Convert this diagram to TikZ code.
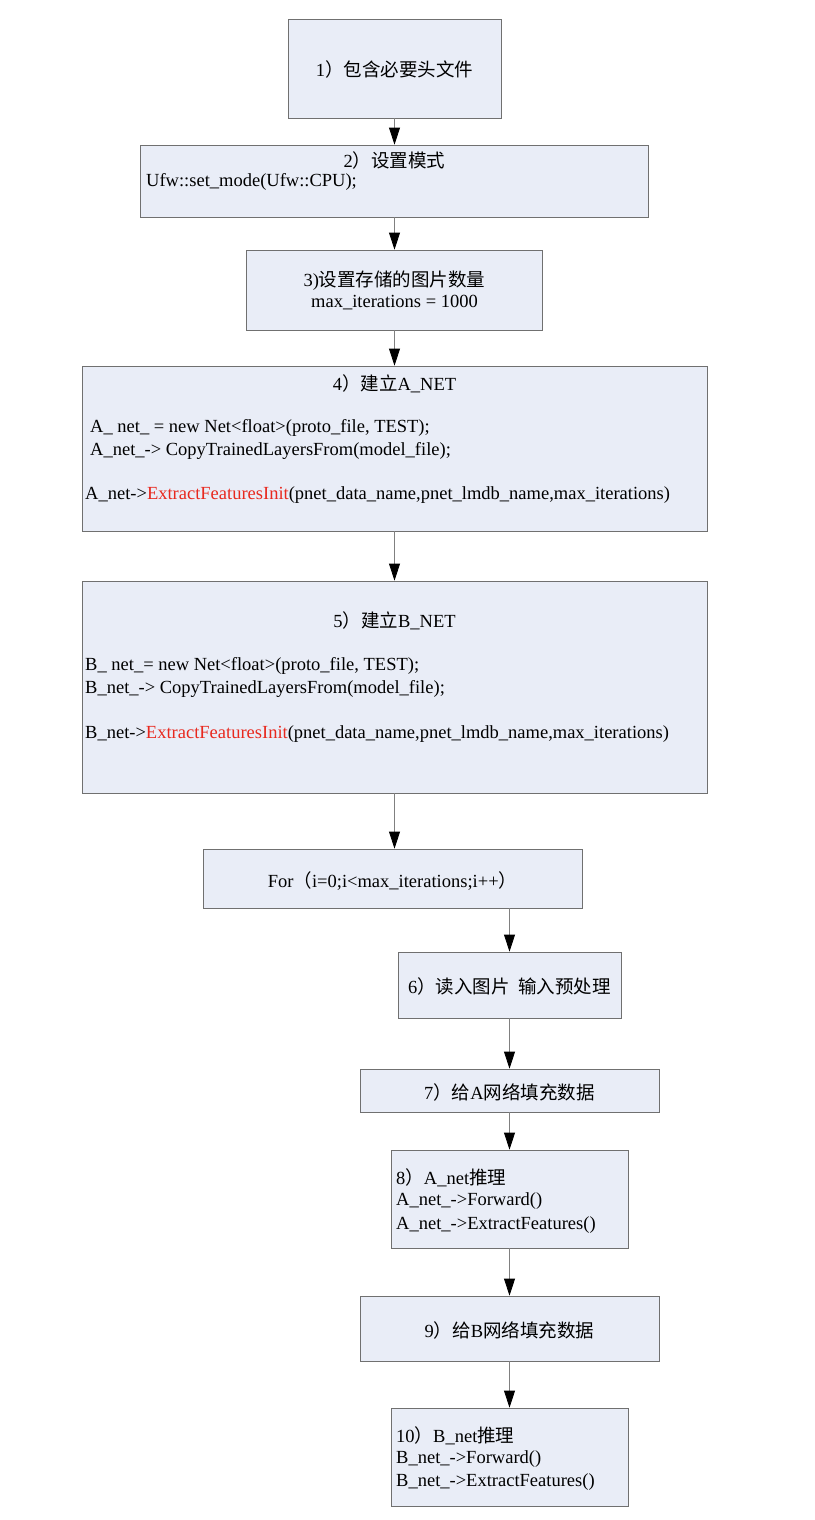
\documentclass[tikz,border=0pt]{standalone}
\usepackage{fontspec}
\setmainfont{Liberation Serif}
\newfontfamily\cjk{Noto Sans CJK SC}
\usetikzlibrary{arrows.meta}
\definecolor{boxfill}{RGB}{233,237,247}
\definecolor{boxline}{RGB}{112,112,112}
\definecolor{redtxt}{RGB}{232,40,30}
\newcommand{\zh}[1]{{\cjk #1}}
\tikzset{
	box/.style={draw=boxline, fill=boxfill, line width=0.8pt, inner sep=0pt},
	txt/.style={inner sep=0pt, font=\fontsize{18.5}{22}\selectfont},
	flow/.style={draw=gray, line width=0.8pt, -{Triangle[length=17pt,width=11pt,black]}},
}
\begin{document}
\begin{tikzpicture}[x=1pt, y=-1pt]
			%%%%% START %%%%%
			
			\useasboundingbox[fill=white] (0, 0) rectangle (814, 1520);
			
			\node[box, minimum width=213, minimum height=99] (head) at (394.5, 68.5) {};
			\node[box, minimum width=508, minimum height=72] (mode) at (394.5, 181) {};
			\node[box, minimum width=296, minimum height=80] (count) at (394.5, 290) {};
			\node[box, minimum width=625, minimum height=165] (anet) at (394.5, 448.5) {};
			\node[box, minimum width=625, minimum height=212] (bnet) at (394.5, 687) {};
			\node[box, minimum width=379, minimum height=59] (loop) at (392.5, 878.5) {};
			
			\node[box, minimum width=223, minimum height=66] (read) at (509.5, 985) {};
			\node[box, minimum width=299, minimum height=43] (filla) at (509.5, 1090.5) {};
			\node[box, minimum width=237, minimum height=98] (infera) at (509.5, 1199) {};
			\node[box, minimum width=299, minimum height=65] (fillb) at (509.5, 1328.5) {};
			\node[box, minimum width=237, minimum height=98] (inferb) at (509.5, 1457) {};
			
			\node[txt] (headtxt) at (394.5, 69) {1\zh{）包含必要头文件}};
			
			\node[txt] (modetitle) at (394.5, 160) {2\zh{）设置模式}};
			\node[txt, anchor=west] (modecode) at (146, 182) {Ufw::set\_mode(Ufw::CPU);};
			
			\node[txt] (counttitle) at (394.5, 281) {3)\zh{设置存储的图片数量}};
			\node[txt] (countcode) at (394.5, 303) {max\_iterations = 1000};
			
			\node[txt] (anettitle) at (394.5, 384) {4\zh{）建立}A\_NET};
			\node[txt, anchor=west] (aneta) at (90, 428) {A\_ net\_ = new Net<float>(proto\_file, TEST);};
			\node[txt, anchor=west] (anetb) at (90, 451) {A\_net\_-> CopyTrainedLayersFrom(model\_file);};
			\node[txt, anchor=west] (anetc) at (85, 495) {A\_net->\textcolor{redtxt}{ExtractFeaturesInit}(pnet\_data\_name,pnet\_lmdb\_name,max\_iterations)};
			
			\node[txt] (bnettitle) at (394.5, 621) {5\zh{）建立}B\_NET};
			\node[txt, anchor=west] (bneta) at (85, 666) {B\_ net\_= new Net<float>(proto\_file, TEST);};
			\node[txt, anchor=west] (bnetb) at (85, 689) {B\_net\_-> CopyTrainedLayersFrom(model\_file);};
			\node[txt, anchor=west] (bnetc) at (85, 734) {B\_net->\textcolor{redtxt}{ExtractFeaturesInit}(pnet\_data\_name,pnet\_lmdb\_name,max\_iterations)};
			
			\node[txt] (looptxt) at (392.5, 881) {For\zh{（}i=0;i<max\_iterations;i++\zh{）}};
			
			\node[txt] (readtxt) at (509.5, 986) {6\zh{）读入图片\ \ 输入预处理}};
			\node[txt] (fillatxt) at (509.5, 1092) {7\zh{）给}A\zh{网络填充数据}};
			
			\node[txt, anchor=west] (inferatitle) at (396, 1178) {8\zh{）}A\_net\zh{推理}};
			\node[txt, anchor=west] (inferaa) at (396, 1201) {A\_net\_->Forward()};
			\node[txt, anchor=west] (inferab) at (396, 1225) {A\_net\_->ExtractFeatures()};
			
			\node[txt] (fillbtxt) at (509.5, 1330) {9\zh{）给}B\zh{网络填充数据}};
			
			\node[txt, anchor=west] (inferbtitle) at (396, 1436) {10\zh{）}B\_net\zh{推理}};
			\node[txt, anchor=west] (inferba) at (396, 1459) {B\_net\_->Forward()};
			\node[txt, anchor=west] (inferbb) at (396, 1482) {B\_net\_->ExtractFeatures()};
			
			\draw[flow] (head) -- (mode);
			\draw[flow] (mode) -- (count);
			\draw[flow] (count) -- (anet);
			\draw[flow] (anet) -- (bnet);
			\draw[flow] (bnet.south) -- (bnet.south |- loop.north);
			\draw[flow] (loop.south -| read) -- (read);
			\draw[flow] (read) -- (filla);
			\draw[flow] (filla) -- (infera);
			\draw[flow] (infera) -- (fillb);
			\draw[flow] (fillb) -- (inferb);
			
			%%%%% END %%%%%
		\end{tikzpicture}
\end{document}
